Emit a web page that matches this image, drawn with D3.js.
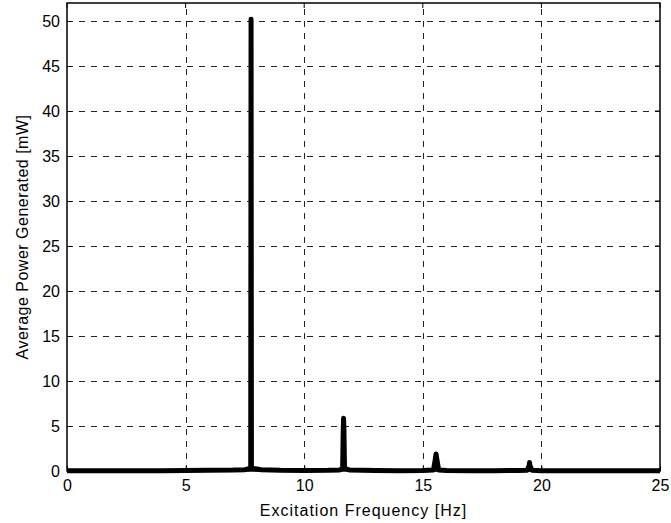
<!DOCTYPE html>
<html>
<head>
<meta charset="utf-8">
<script src="https://cdn.jsdelivr.net/npm/d3@7"></script>
<style>
  html, body { margin: 0; padding: 0; background: #fff; }
  svg { display: block; }
  text { font-family: Arial, "Liberation Sans", sans-serif; fill: #000; }
</style>
</head>
<body>
<svg id="chart" width="671" height="523"></svg>
<script>
// Excitation frequency sweep [Hz]
const frequency = [0, 1, 2, 3, 4, 5, 6, 7, 7.5, 7.745, 7.76, 7.775, 8.2, 9, 10, 11, 11.5, 11.62, 11.645, 11.66, 11.675, 11.70, 11.9, 13, 14, 15, 15.45, 15.54, 15.56, 15.58, 15.67, 16, 17, 18, 19, 19.4, 19.485, 19.50, 19.515, 19.6, 20, 21, 22, 23, 24, 25];
// Average power generated [mW]
const power = [0.02, 0.02, 0.03, 0.03, 0.04, 0.05, 0.07, 0.1, 0.15, 0.3, 50.2, 0.3, 0.15, 0.08, 0.06, 0.08, 0.12, 0.3, 4.5, 5.85, 4.5, 0.3, 0.12, 0.06, 0.04, 0.06, 0.1, 1.5, 1.9, 1.5, 0.1, 0.05, 0.03, 0.03, 0.05, 0.08, 0.6, 0.95, 0.6, 0.08, 0.04, 0.03, 0.02, 0.02, 0.02, 0.02];

const xTicks = [0, 5, 10, 15, 20, 25];
const yTicks = [0, 5, 10, 15, 20, 25, 30, 35, 40, 45, 50];

const xLabel = "Excitation Frequency [Hz]";
const yLabel = "Average Power Generated [mW]";

const svg = d3.select("#chart");
const plotLeft = 67, plotRight = 660, plotTop = 3, plotBottom = 471;

const x = d3.scaleLinear().domain([0, 25]).range([plotLeft, plotRight]);
const y = d3.scaleLinear().domain([0, 52]).range([plotBottom, plotTop]);

// dashed grid
const grid = svg.append("g").attr("stroke", "#222").attr("stroke-width", 1)
  .attr("stroke-dasharray", "6,6").attr("fill", "none");
grid.selectAll("line.gx").data(xTicks.slice(1, -1)).join("line")
  .attr("x1", d => Math.round(x(d)) + 0.5).attr("x2", d => Math.round(x(d)) + 0.5)
  .attr("y1", plotBottom).attr("y2", plotTop);
grid.selectAll("line.gy").data(yTicks.slice(1)).join("line")
  .attr("x1", plotLeft).attr("x2", plotRight)
  .attr("y1", d => Math.round(y(d)) + 0.5).attr("y2", d => Math.round(y(d)) + 0.5);

// axes box
svg.append("rect")
  .attr("x", plotLeft).attr("y", plotTop).attr("width", plotRight - plotLeft).attr("height", plotBottom - plotTop)
  .attr("fill", "none").attr("stroke", "#000").attr("stroke-width", 1.5);

// axes with inward ticks
const xAxis = svg.append("g").attr("transform", `translate(0,${plotBottom})`)
  .call(d3.axisBottom(x).tickValues(xTicks).tickSize(-5).tickPadding(9).tickFormat(d3.format("d")));
const yAxis = svg.append("g").attr("transform", `translate(${plotLeft},0)`)
  .call(d3.axisLeft(y).tickValues(yTicks).tickSize(-5).tickPadding(7).tickFormat(d3.format("d")));
[xAxis, yAxis].forEach(a => {
  a.select(".domain").remove();
  a.selectAll(".tick line").attr("stroke", "#000");
  a.selectAll(".tick text").attr("font-size", 16).attr("font-family", "Arial, 'Liberation Sans', sans-serif");
});
// top and right ticks
svg.append("g").selectAll("line").data(xTicks).join("line")
  .attr("x1", d => x(d)).attr("x2", d => x(d)).attr("y1", plotTop).attr("y2", plotTop + 5).attr("stroke", "#000");
svg.append("g").selectAll("line").data(yTicks).join("line")
  .attr("x1", plotRight).attr("x2", plotRight - 5).attr("y1", d => y(d)).attr("y2", d => y(d)).attr("stroke", "#000");

// power curve
const line = d3.line().x((d, i) => x(frequency[i])).y(d => y(d));
svg.append("path")
  .datum(power)
  .attr("d", line)
  .attr("fill", "none")
  .attr("stroke", "#000")
  .attr("stroke-width", 5)
  .attr("stroke-linejoin", "round")
  .attr("stroke-linecap", "butt");

// labels
svg.append("text")
  .attr("x", (plotLeft + plotRight) / 2).attr("y", 516)
  .attr("text-anchor", "middle").attr("font-size", 16)
  .attr("letter-spacing", 1)
  .text(xLabel);
svg.append("text")
  .attr("transform", `translate(28,${(plotTop + plotBottom) / 2}) rotate(-90)`)
  .attr("text-anchor", "middle").attr("font-size", 16)
  .attr("letter-spacing", 0.5)
  .text(yLabel);
</script>
</body>
</html>
